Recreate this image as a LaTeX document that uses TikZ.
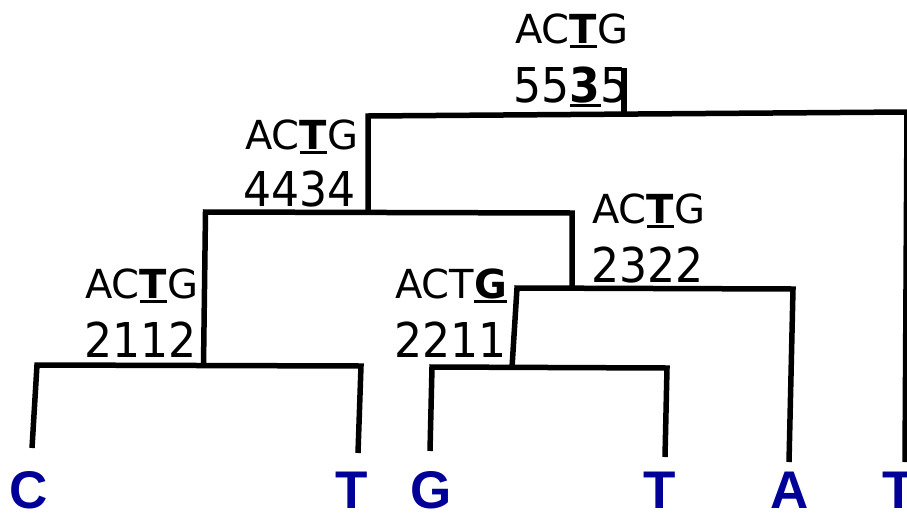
\documentclass[tikz,border=0pt]{standalone}
\usepackage{fontspec}
\usepackage{graphicx}
\setmainfont{DejaVu Sans}
\newfontfamily\leaffont{Liberation Sans}
\definecolor{leafblue}{RGB}{0,0,153}
\newsavebox\ulbox
\newcommand\bu[1]{\sbox\ulbox{\bfseries #1}\rlap{\rule[-5pt]{\wd\ulbox}{3pt}}\usebox\ulbox}
\newcommand\seqtxt[1]{\fontsize{40}{40}\selectfont #1}
\newcommand\digtxt[1]{\scalebox{0.92}[1]{\fontsize{48}{48}\selectfont #1}}
\tikzset{
  branch/.style={line width=5.5pt, line join=miter, line cap=butt, black},
  lab/.style={inner sep=0pt, anchor=base west, text=black},
  leaf/.style={inner sep=0pt, anchor=base, text=leafblue, font=\leaffont\bfseries\fontsize{53}{53}\selectfont}
}
\begin{document}
\begin{tikzpicture}[x=1pt,y=-1pt]
\useasboundingbox (0,0) rectangle (907,512);
\clip (0,0) rectangle (907,512);
% labels
\node[lab] (rs) at (515,43) {\seqtxt{AC\bu{T}G}};
\node[lab] (rn) at (513.5,102) {\digtxt{55\bu{3}5}};
\node[lab] (as) at (245,149) {\seqtxt{AC\bu{T}G}};
\node[lab] (an) at (243,206) {\digtxt{4434}};
\node[lab] (ds) at (592,223) {\seqtxt{AC\bu{T}G}};
\node[lab] (dn) at (591,282) {\digtxt{2322}};
\node[lab] (cs) at (85,298) {\seqtxt{AC\bu{T}G}};
\node[lab] (cn) at (84,357) {\digtxt{2112}};
\node[lab] (es) at (395,298) {\seqtxt{ACT\bu{G}}};
\node[lab] (en) at (394,357) {\digtxt{2211}};
% leaves
\node[leaf] (l1) at (28.5,508) {C};
\node[leaf] (l2) at (352,508) {T};
\node[leaf] (l3) at (431.5,508) {G};
\node[leaf] (l4) at (660,508) {T};
\node[leaf] (l5) at (789.5,508) {A};
\node[leaf] (l6) at (898.5,508) {T};
% tree coordinates
\coordinate (rootTop) at (624,68);
\coordinate (rootJ) at (624,114);
\coordinate (aL) at (368,116);
\coordinate (aR) at (907,112);
\coordinate (bJ) at (368,212);
\coordinate (bL) at (205.5,212);
\coordinate (bR) at (572,213);
\coordinate (cJ) at (203.5,365.5);
\coordinate (dJ) at (572,288.5);
\coordinate (cL) at (37,365);
\coordinate (cR) at (361,366);
\coordinate (dL) at (517,288);
\coordinate (dR) at (793,289);
\coordinate (eJ) at (512,367.5);
\coordinate (eL) at (432,367);
\coordinate (eR) at (667,368);
\coordinate (legC) at (32,448);
\coordinate (legT2) at (358,453);
\coordinate (legG) at (430,451);
\coordinate (legT4) at (665,457);
\coordinate (legA) at (789,462);
\coordinate (legT6) at (905,462);
% branches
\draw[branch] (rootTop) -- (rootJ);
\draw[branch] (legT6) -- (aR) -- (aL) -- (bJ);
\draw[branch] (cJ) -- (bL) -- (bR) -- (dJ);
\draw[branch] (legC) -- (cL) -- (cR) -- (legT2);
\draw[branch] (eJ) -- (dL) -- (dR) -- (legA);
\draw[branch] (legG) -- (eL) -- (eR) -- (legT4);
\end{tikzpicture}
\end{document}
